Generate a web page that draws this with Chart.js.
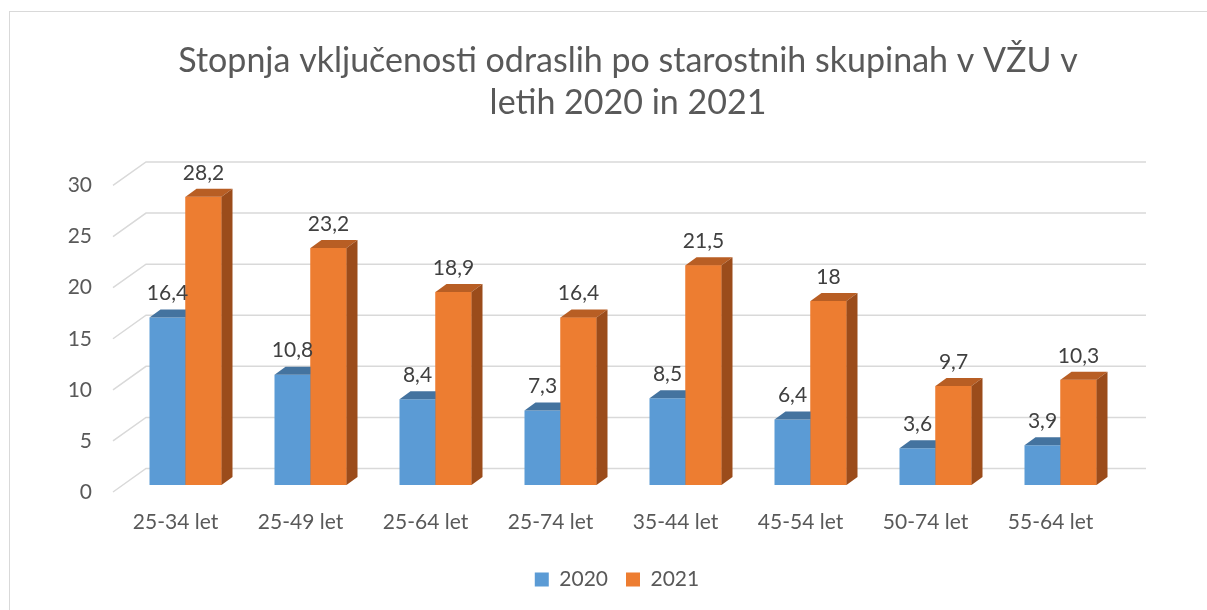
<!DOCTYPE html>
<html>
<head>
<meta charset="utf-8">
<script src="https://cdn.jsdelivr.net/npm/chart.js@4.4.1/dist/chart.umd.min.js"></script>
<style>
  html, body { margin: 0; padding: 0; background: #fff; overflow: hidden; }
  #okvir { position: absolute; left: 9px; top: 11px; width: 1300px; height: 700px; border: 1px solid #d9d9d9; }
  #plosca { position: absolute; left: 0; top: 0; width: 1207px; height: 610px; }
</style>
</head>
<body>
<div id="okvir"></div>
<div id="plosca"><canvas id="graf"></canvas></div>
<script>
const kategorije = ['25-34 let', '25-49 let', '25-64 let', '25-74 let', '35-44 let', '45-54 let', '50-74 let', '55-64 let'];
const leto2020 = [16.4, 10.8, 8.4, 7.3, 8.5, 6.4, 3.6, 3.9];
const leto2021 = [28.2, 23.2, 18.9, 16.4, 21.5, 18, 9.7, 10.3];
const oznakeY = [0, 5, 10, 15, 20, 25, 30];
const naslov = ['Stopnja vključenosti odraslih po starostnih skupinah v VŽU v', 'letih 2020 in 2021'];

const pisava = 'Lato, "Open Sans", sans-serif';
const sivo = '#595959';

// 3D zamiki: sprednja ploskev stolpcev, globina stolpca, zadnja stena
const spredaj = { dx: 10, dy: -7 };
const globina = { dx: 11, dy: -8 };
const stena = { dx: 33, dy: -23.5 };

const barve = [
  { front: '#5b9bd5', top: '#44739f', side: '#3b6690' },
  { front: '#ed7d31', top: '#b85e24', side: '#9b4c1b' }
];

const vejica = v => String(v).replace('.', ',');

function ploskve(ctx, el, b, sprednja) {
  const { x, y, base, width } = el.getProps(['x', 'y', 'base', 'width'], true);
  const l = x - width / 2, r = x + width / 2;
  if (sprednja) {
    ctx.fillStyle = b.front;
    ctx.fillRect(l, y, width, base - y);
  }
  ctx.fillStyle = b.top;
  ctx.beginPath();
  ctx.moveTo(l, y);
  ctx.lineTo(r, y);
  ctx.lineTo(r + globina.dx, y + globina.dy);
  ctx.lineTo(l + globina.dx, y + globina.dy);
  ctx.closePath();
  ctx.fill();
  ctx.fillStyle = b.side;
  ctx.beginPath();
  ctx.moveTo(r, y);
  ctx.lineTo(r + globina.dx, y + globina.dy);
  ctx.lineTo(r + globina.dx, base + globina.dy);
  ctx.lineTo(r, base);
  ctx.closePath();
  ctx.fill();
}

const prostor3d = {
  id: 'prostor3d',
  afterLayout(chart) {
    const t = chart.titleBlock, l = chart.legend;
    const dt = 628 - (t.left + t.right) / 2;
    t.left += dt; t.right += dt;
    const dl = 617 - (l.left + l.right) / 2;
    l.left += dl; l.right += dl;
  },
  beforeDatasetsDraw(chart) {
    const { ctx, chartArea, scales } = chart;
    ctx.save();
    ctx.strokeStyle = '#d9d9d9';
    ctx.lineWidth = 1.5;
    oznakeY.forEach(v => {
      const y = scales.y.getPixelForValue(v);
      ctx.beginPath();
      ctx.moveTo(chartArea.left, y);
      ctx.lineTo(chartArea.left + stena.dx, y + stena.dy);
      ctx.lineTo(chartArea.right + stena.dx, y + stena.dy);
      ctx.stroke();
    });
    ctx.restore();
    ctx.save();
    ctx.translate(spredaj.dx, spredaj.dy);
  },
  afterDatasetsDraw(chart) {
    const { ctx } = chart;
    const m0 = chart.getDatasetMeta(0).data, m1 = chart.getDatasetMeta(1).data;
    kategorije.forEach((k, j) => {
      ploskve(ctx, m0[j], barve[0], false);
      ploskve(ctx, m1[j], barve[1], true);
    });
    ctx.font = '21px ' + pisava;
    ctx.fillStyle = '#404040';
    ctx.textAlign = 'center';
    ctx.textBaseline = 'middle';
    chart.data.datasets.forEach((ds, i) => {
      chart.getDatasetMeta(i).data.forEach((el, j) => {
        ctx.fillText(vejica(ds.data[j]), el.x, el.y - 24);
      });
    });
    ctx.restore();
  }
};

new Chart(document.getElementById('graf'), {
  type: 'bar',
  data: {
    labels: kategorije,
    datasets: [
      { label: '2020', data: leto2020, backgroundColor: barve[0].front },
      { label: '2021', data: leto2021, backgroundColor: barve[1].front }
    ]
  },
  options: {
    responsive: true,
    maintainAspectRatio: false,
    animation: false,
    events: [],
    layout: { padding: { left: 0, right: 94, top: 0, bottom: 10 } },
    datasets: { bar: { categoryPercentage: 0.576, barPercentage: 1, clip: false } },
    scales: {
      x: {
        afterFit: s => { s.height = 59; },
        grid: { display: false, drawTicks: false },
        border: { display: false },
        ticks: { color: sivo, font: { family: pisava, size: 21 }, padding: 18, maxRotation: 0 }
      },
      y: {
        min: 0,
        max: 30,
        afterFit: s => { s.width = 113; },
        afterBuildTicks: s => { s.ticks = oznakeY.map(v => ({ value: v })); },
        grid: { display: false, drawTicks: false },
        border: { display: false },
        ticks: { color: sivo, font: { family: pisava, size: 21 }, padding: 21 }
      }
    },
    plugins: {
      title: {
        display: true,
        text: naslov,
        color: sivo,
        font: { family: pisava, size: 34, weight: 'normal', lineHeight: 1.235 },
        padding: { top: 40, bottom: 61.5 }
      },
      legend: {
        position: 'bottom',
        labels: {
          color: sivo,
          font: { family: pisava, size: 21 },
          boxWidth: 14,
          boxHeight: 14,
          padding: 18,
          sort: (a, b) => a.datasetIndex - b.datasetIndex
        }
      },
      tooltip: { enabled: false }
    }
  },
  plugins: [prostor3d]
});
</script>
</body>
</html>
